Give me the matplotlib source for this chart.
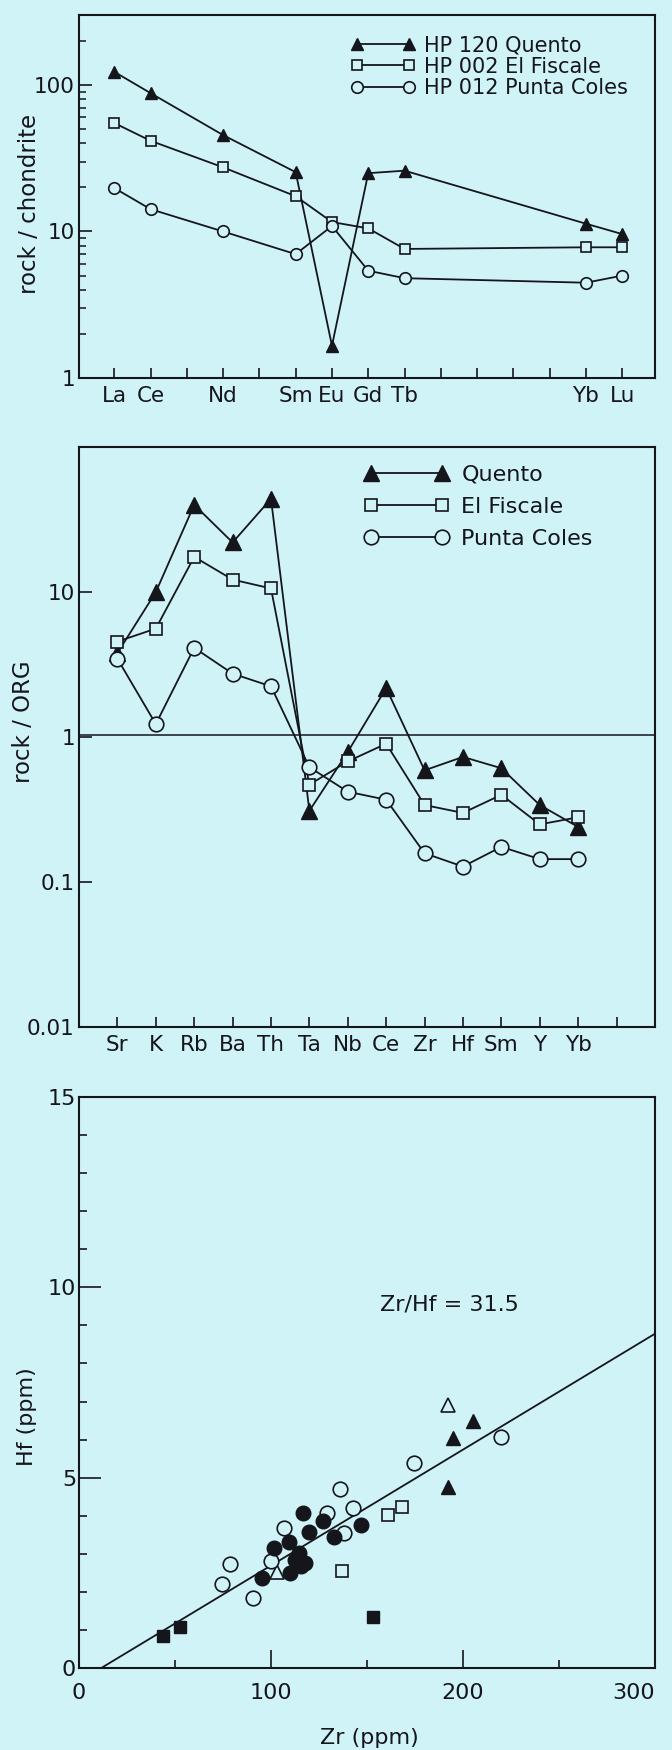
import numpy as np
import matplotlib.pyplot as plt
from matplotlib.ticker import FixedLocator, FixedFormatter, LogLocator, NullLocator, NullFormatter

plt.rcParams['font.family'] = ['DejaVu Sans']

# --- panel 1: REE, rock / chondrite ---
ree_all = ['La', 'Ce', 'Pr', 'Nd', 'Pm', 'Sm', 'Eu', 'Gd', 'Tb', 'Dy', 'Ho', 'Er', 'Tm', 'Yb', 'Lu']
ree_shown = ['La', 'Ce', 'Nd', 'Sm', 'Eu', 'Gd', 'Tb', 'Yb', 'Lu']
quento_ree = [123, 88, 45.5, 25.4, 1.66, 25, 26, 11.3, 9.6]
fiscale_ree = [55, 41.6, 27.4, 17.4, 11.6, 10.5, 7.6, 7.8, 7.8]
coles_ree = [19.8, 14.2, 10.0, 7.0, 10.9, 5.4, 4.8, 4.47, 5.0]

# --- panel 2: rock / ORG ---
org_elements = ['Sr', 'K', 'Rb', 'Ba', 'Th', 'Ta', 'Nb', 'Ce', 'Zr', 'Hf', 'Sm', 'Y', 'Yb']
quento_org = [3.8, 10, 40, 22, 44, 0.31, 0.79, 2.18, 0.59, 0.73, 0.61, 0.34, 0.24]
fiscale_org = [4.56, 5.6, 17.5, 12.2, 10.6, 0.47, 0.68, 0.90, 0.34, 0.30, 0.40, 0.25, 0.28]
coles_org = [3.47, 1.23, 4.13, 2.74, 2.24, 0.62, 0.42, 0.37, 0.158, 0.128, 0.175, 0.144, 0.144]

# --- panel 3: Hf vs Zr ---
open_circle_zr = [220, 174.5, 135.8, 142.5, 129, 106.7, 138, 100, 78.7, 74.7, 90.8]
open_circle_hf = [6.08, 5.39, 4.69, 4.21, 4.08, 3.67, 3.54, 2.82, 2.74, 2.21, 1.84]
filled_circle_zr = [116.8, 127.3, 147, 119.7, 133, 109.6, 101.8, 114.5, 112.3, 117.9, 115.7, 110, 95.3]
filled_circle_hf = [4.08, 3.86, 3.76, 3.56, 3.43, 3.30, 3.15, 3.02, 2.84, 2.77, 2.67, 2.49, 2.36]
open_square_zr = [161, 168, 137]
open_square_hf = [4.02, 4.22, 2.55]
filled_square_zr = [44, 52.6, 153]
filled_square_hf = [0.83, 1.09, 1.35]
open_tri_zr = [192, 103]
open_tri_hf = [6.9, 2.53]
filled_tri_zr = [205, 195, 192]
filled_tri_hf = [6.5, 6.03, 4.76]
fit_zr = [11.6, 300]
fit_hf = [0, 8.78]

bg = '#d0f3f8'
ink = '#15151c'
lw = 1.3

fig = plt.figure(figsize=(6.72, 17.5), dpi=100, facecolor=bg)
ax1 = fig.add_axes([0.1176, 0.784, 0.857, 0.2074])
ax2 = fig.add_axes([0.1176, 0.4131, 0.857, 0.3314])
ax3 = fig.add_axes([0.1176, 0.04686, 0.857, 0.3263])

for ax in (ax1, ax2, ax3):
    ax.set_facecolor(bg)
    for s in ax.spines.values():
        s.set_color(ink)
        s.set_linewidth(1.5)

# panel 1
ree_pos = [ree_all.index(e) for e in ree_shown]
ax1.plot(ree_pos, quento_ree, '-^', color=ink, mfc=ink, ms=9, lw=lw, label='HP 120 Quento')
ax1.plot(ree_pos, fiscale_ree, '-s', color=ink, mfc=bg, ms=6.8, mew=1.2, lw=lw, label='HP 002 El Fiscale')
ax1.plot(ree_pos, coles_ree, '-o', color=ink, mfc=bg, ms=8.3, mew=1.2, lw=lw, label='HP 012 Punta Coles')
ax1.set_yscale('log')
ax1.set_ylim(1, 300)
ax1.set_xlim(-0.97, 14.9)
ax1.yaxis.set_major_locator(FixedLocator([1, 10, 100]))
ax1.yaxis.set_major_formatter(FixedFormatter(['1', '10', '100']))
ax1.yaxis.set_minor_locator(LogLocator(base=10, subs=np.arange(2, 10)))
ax1.yaxis.set_minor_formatter(NullFormatter())
ax1.set_xticks(range(len(ree_all)))
ax1.set_xticklabels([e if e in ree_shown else '' for e in ree_all])
ax1.tick_params(axis='x', direction='in', length=7, width=1.2, pad=6, labelsize=15.5, colors=ink)
ax1.tick_params(axis='y', which='major', direction='in', length=9, width=1.2, pad=3, labelsize=15.5, colors=ink)
ax1.tick_params(axis='y', which='minor', direction='in', length=5, width=1.1, colors=ink)
ax1.set_ylabel('rock / chondrite', fontsize=16.5, color=ink)
ax1.yaxis.set_label_coords(-0.066, 0.48)
ax1.legend(loc='upper left', bbox_to_anchor=(0.472, 0.945), frameon=False, numpoints=2,
           handlelength=3.1, handletextpad=0.4, labelspacing=0.08, borderpad=0,
           borderaxespad=0, fontsize=15, labelcolor=ink)

# panel 2
org_pos = np.arange(len(org_elements))
ax2.axhline(1.03, color=ink, lw=1.1, zorder=1)
ax2.plot(org_pos, quento_org, '-^', color=ink, mfc=ink, ms=11, lw=lw, label='Quento')
ax2.plot(org_pos, fiscale_org, '-s', color=ink, mfc=bg, ms=9, mew=1.2, lw=lw, label='El Fiscale')
ax2.plot(org_pos, coles_org, '-o', color=ink, mfc=bg, ms=10.5, mew=1.2, lw=lw, label='Punta Coles')
ax2.set_yscale('log')
ax2.set_ylim(0.01, 100)
ax2.set_xlim(-1, 14)
ax2.yaxis.set_major_locator(FixedLocator([0.01, 0.1, 1, 10, 100]))
ax2.yaxis.set_major_formatter(FixedFormatter(['0.01', '0.1', '1', '10', '']))
ax2.yaxis.set_minor_locator(NullLocator())
ax2.set_xticks(range(len(org_elements) + 1))
ax2.set_xticklabels(org_elements + [''])
ax2.tick_params(axis='x', direction='in', length=7, width=1.2, pad=6, labelsize=15.5, colors=ink)
ax2.tick_params(axis='y', direction='in', length=9, width=1.2, pad=3, labelsize=15.5, colors=ink)
ax2.set_ylabel('rock / ORG', fontsize=16.5, color=ink)
ax2.yaxis.set_label_coords(-0.077, 0.526)
ax2.legend(loc='upper left', bbox_to_anchor=(0.496, 0.970), frameon=False, numpoints=2,
           handlelength=3.8, handletextpad=0.55, labelspacing=0.55, borderpad=0,
           borderaxespad=0, fontsize=16, labelcolor=ink)

# panel 3
ax3.plot(fit_zr, fit_hf, '-', color=ink, lw=lw, zorder=1)
ax3.plot(open_tri_zr, open_tri_hf, '^', ls='none', color=ink, mfc=bg, ms=10.5, mew=1.2, zorder=2)
ax3.plot(open_circle_zr, open_circle_hf, 'o', ls='none', color=ink, mfc=bg, ms=10.5, mew=1.2, zorder=3)
ax3.plot(filled_circle_zr, filled_circle_hf, 'o', ls='none', color=ink, mfc=ink, ms=10.5, mew=1.0, zorder=4)
ax3.plot(open_square_zr, open_square_hf, 's', ls='none', color=ink, mfc=bg, ms=9, mew=1.2, zorder=4)
ax3.plot(filled_square_zr, filled_square_hf, 's', ls='none', color=ink, mfc=ink, ms=9, zorder=4)
ax3.plot(filled_tri_zr, filled_tri_hf, '^', ls='none', color=ink, mfc=ink, ms=10.5, zorder=4)
ax3.text(193, 9.55, 'Zr/Hf = 31.5', ha='center', va='center', fontsize=16, color=ink)
ax3.set_xlim(0, 300)
ax3.set_ylim(0, 15)
ax3.set_xticks([0, 100, 200, 300])
ax3.set_xticks([50, 150, 250], minor=True)
ax3.set_yticks([0, 5, 10, 15])
ax3.set_yticks(np.arange(1, 15), minor=True)
ax3.tick_params(axis='x', which='major', direction='in', length=13, width=1.2, pad=11, labelsize=16, colors=ink)
ax3.tick_params(axis='x', which='minor', direction='in', length=6, width=1.2, colors=ink)
ax3.tick_params(axis='y', which='major', direction='in', length=16, width=1.2, pad=2, labelsize=16, colors=ink)
ax3.tick_params(axis='y', which='minor', direction='in', length=6, width=1.2, colors=ink)
ax3.get_xticklabels()[-1].set_horizontalalignment('right')
ax3.set_xlabel('Zr (ppm)', fontsize=16, color=ink)
ax3.set_ylabel('Hf (ppm)', fontsize=16, color=ink)
ax3.xaxis.set_label_coords(0.505, -0.105)
ax3.yaxis.set_label_coords(-0.073, 0.44)

fig.savefig('out.png', dpi=100, facecolor=bg)
